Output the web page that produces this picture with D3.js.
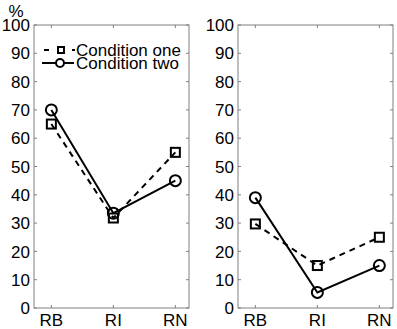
<!DOCTYPE html>
<html><head><meta charset="utf-8">
<script src="https://cdn.jsdelivr.net/npm/d3@7"></script>
<style>body{margin:0;background:#fff}svg{display:block}text{font-family:"Liberation Sans",Arial,sans-serif}</style>
</head><body>
<script>
const categories = ["RB","RI","RN"];
const yTicks = [0,10,20,30,40,50,60,70,80,90,100];
const leftOne = [65, 31.8, 55];
const leftTwo = [70, 33.5, 45];
const rightOne = [29.7, 15, 25];
const rightTwo = [39, 5.5, 15];
const seriesNames = ["Condition one","Condition two"];

const W=397,H=329,FS=17;
const svg=d3.select("body").append("svg").attr("width",W).attr("height",H);
const y=d3.scaleLinear().domain([0,100]).range([308,25]);
const axisCol="#808080";

function panel(x0,x1,one,two,legend){
  const x=d3.scaleLinear().domain([0.72,3.22]).range([x0,x1]);
  const g=svg.append("g");
  g.append("rect").attr("x",x0).attr("y",y(100)).attr("width",x1-x0).attr("height",y(0)-y(100))
    .attr("fill","none").attr("stroke",axisCol).attr("stroke-width",1);
  const tl=3;
  yTicks.forEach(t=>{
    g.append("line").attr("x1",x0).attr("x2",x0+tl).attr("y1",y(t)).attr("y2",y(t)).attr("stroke",axisCol);
    g.append("line").attr("x1",x1).attr("x2",x1-tl).attr("y1",y(t)).attr("y2",y(t)).attr("stroke",axisCol);
    g.append("text").attr("x",x0-4).attr("y",y(t)).attr("dy","0.36em").attr("text-anchor","end")
      .attr("font-size",FS).attr("fill","#000").text(t);
  });
  categories.forEach((c,i)=>{
    const xx=x(i+1);
    g.append("line").attr("x1",xx).attr("x2",xx).attr("y1",y(0)).attr("y2",y(0)-tl).attr("stroke",axisCol);
    g.append("line").attr("x1",xx).attr("x2",xx).attr("y1",y(100)).attr("y2",y(100)+tl).attr("stroke",axisCol);
    g.append("text").attr("x",xx).attr("y",y(0)+18).attr("text-anchor","middle")
      .attr("font-size",FS).attr("fill","#000").text(c);
  });
  const line=d3.line().x((d,i)=>x(i+1)).y(d=>y(d));
  g.append("path").attr("d",line(one)).attr("fill","none").attr("stroke","#000").attr("stroke-width",2).attr("stroke-dasharray","6,5");
  g.append("path").attr("d",line(two)).attr("fill","none").attr("stroke","#000").attr("stroke-width",2);
  one.forEach((d,i)=>{
    g.append("rect").attr("x",x(i+1)-4.5).attr("y",y(d)-4.5).attr("width",9).attr("height",9)
      .attr("fill","none").attr("stroke","#000").attr("stroke-width",2);
  });
  two.forEach((d,i)=>{
    g.append("circle").attr("cx",x(i+1)).attr("cy",y(d)).attr("r",5.5)
      .attr("fill","none").attr("stroke","#000").attr("stroke-width",2);
  });
  if(legend){
    const ly=[50,63];
    g.append("line").attr("x1",44).attr("x2",75).attr("y1",ly[0]).attr("y2",ly[0]).attr("stroke","#000").attr("stroke-width",2).attr("stroke-dasharray","5,9");
    g.append("rect").attr("x",61-3).attr("y",ly[0]-3).attr("width",6).attr("height",6).attr("fill","#fff").attr("stroke","#000").attr("stroke-width",2);
    g.append("line").attr("x1",42).attr("x2",74).attr("y1",ly[1]).attr("y2",ly[1]).attr("stroke","#000").attr("stroke-width",2);
    g.append("circle").attr("cx",60).attr("cy",ly[1]).attr("r",4).attr("fill","#fff").attr("stroke","#000").attr("stroke-width",2);
    seriesNames.forEach((n,i)=>{
      g.append("text").attr("x",76).attr("y",ly[i]).attr("dy","0.36em").attr("font-size",FS).attr("fill","#000").text(n);
    });
  }
}
panel(34,189,leftOne,leftTwo,true);
panel(238,393,rightOne,rightTwo,false);
svg.append("text").attr("x",16).attr("y",17).attr("text-anchor","middle").attr("font-size",FS).attr("fill","#000").text("%");
</script>
</body></html>
